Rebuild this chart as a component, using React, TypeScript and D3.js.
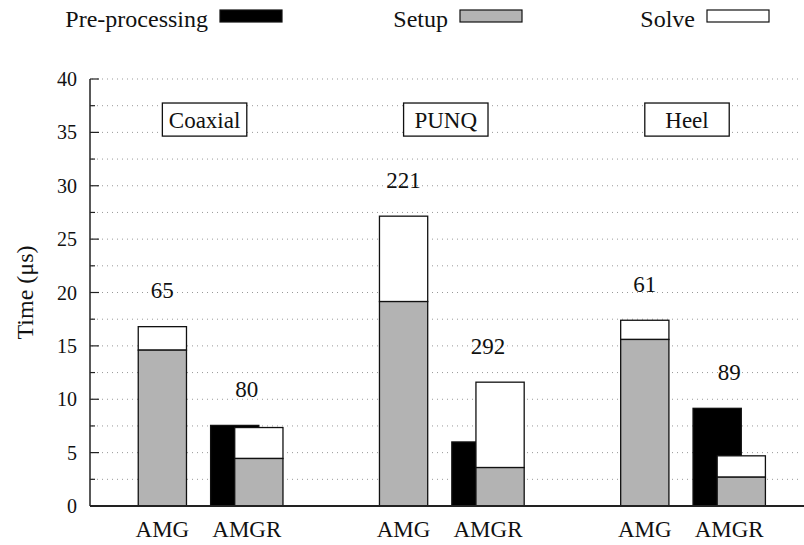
import React, { useEffect, useRef } from 'react';
import * as d3 from 'd3';

const categories = ['Coaxial', 'PUNQ', 'Heel'];
const amgSetup = [14.6, 19.15, 15.6];
const amgSolve = [2.2, 8.0, 1.8];
const amgrPre = [7.55, 6.0, 9.15];
const amgrSetup = [4.45, 3.6, 2.7];
const amgrSolve = [2.9, 8.0, 2.0];
const amgLabels = ['65', '221', '61'];
const amgrLabels = ['80', '292', '89'];
const methods = ['AMG', 'AMGR'];
const legendNames = ['Pre-processing', 'Setup', 'Solve'];
const yTicks = [0, 5, 10, 15, 20, 25, 30, 35, 40];
const yMinor = [2.5, 7.5, 12.5, 17.5, 22.5, 27.5, 32.5, 37.5];

const W = 804;
const H = 545;
const FONT = "'Liberation Serif', 'Times New Roman', Times, Tinos, 'Nimbus Roman', 'DejaVu Serif', serif";
const GRAY = '#b3b3b3';

const App: React.FC = () => {
    const svgRef = useRef<SVGSVGElement>(null);

    useEffect(() => {
        if (!svgRef.current) return;
        const svg = d3.select(svgRef.current);
        svg.selectAll('*').remove();

        // x in "group units": AMG bar at i, pre-processing at i+0.3, AMGR stack at i+0.4
        const x = d3.scaleLinear().domain([-0.3, 2.66]).range([90, W]);
        const y = d3.scaleLinear().domain([0, 40]).range([506, 79]);
        const bw = x(0.2) - x(0);

        const txt = (sel: d3.Selection<SVGTextElement, unknown, null, undefined>, size: number) =>
            sel.style('font-family', FONT).style('font-size', `${size}px`).attr('fill', '#111');

        // grid
        const grid = svg.append('g');
        [...yTicks.slice(1), ...yMinor].forEach((t) => {
            grid.append('line')
                .attr('x1', x(-0.3) + 2)
                .attr('x2', W - 2)
                .attr('y1', y(t))
                .attr('y2', y(t))
                .attr('stroke', '#999')
                .attr('stroke-width', 1)
                .attr('stroke-dasharray', '1,4');
        });

        // category boxes
        categories.forEach((c, i) => {
            const x0 = x(i);
            const x1 = x(i + 0.35);
            svg.append('rect')
                .attr('x', x0)
                .attr('y', y(37.75))
                .attr('width', x1 - x0)
                .attr('height', y(34.65) - y(37.75))
                .attr('fill', 'white')
                .attr('stroke', '#111')
                .attr('stroke-width', 1.3);
            txt(svg.append('text'), 23)
                .attr('x', (x0 + x1) / 2)
                .attr('y', y(36.2) + 8)
                .attr('text-anchor', 'middle')
                .text(c);
        });

        const bars = svg.append('g').attr('stroke', '#111').attr('stroke-width', 1.3);
        const stack = (cx: number, setup: number, solve: number) => {
            bars.append('rect')
                .attr('x', x(cx) - bw / 2)
                .attr('y', y(setup + solve))
                .attr('width', bw)
                .attr('height', y(setup) - y(setup + solve))
                .attr('fill', 'white');
            bars.append('rect')
                .attr('x', x(cx) - bw / 2)
                .attr('y', y(setup))
                .attr('width', bw)
                .attr('height', y(0) - y(setup))
                .attr('fill', GRAY);
        };

        categories.forEach((_c, i) => {
            stack(i, amgSetup[i], amgSolve[i]);
            bars.append('rect')
                .attr('x', x(i + 0.3) - bw / 2)
                .attr('y', y(amgrPre[i]))
                .attr('width', bw)
                .attr('height', y(0) - y(amgrPre[i]))
                .attr('fill', 'black');
            stack(i + 0.4, amgrSetup[i], amgrSolve[i]);

            // value labels above the bars
            const lab = (cx: number, top: number, s: string) => {
                txt(svg.append('text'), 23)
                    .attr('x', x(cx))
                    .attr('y', y(top + 3.4) + 8)
                    .attr('text-anchor', 'middle')
                    .text(s);
            };
            lab(i, amgSetup[i] + amgSolve[i], amgLabels[i]);
            lab(i + 0.35, Math.max(amgrPre[i], amgrSetup[i] + amgrSolve[i]), amgrLabels[i]);

            // method labels
            [i, i + 0.35].forEach((p, k) => {
                txt(svg.append('text'), 23)
                    .attr('x', x(p))
                    .attr('y', 537)
                    .attr('text-anchor', 'middle')
                    .text(methods[k]);
            });
        });

        // axes
        const ax = svg.append('g').attr('stroke', '#222');
        ax.append('line')
            .attr('x1', x(-0.3)).attr('x2', x(-0.3))
            .attr('y1', y(0)).attr('y2', y(40))
            .attr('stroke-width', 1.5);
        ax.append('line')
            .attr('x1', x(-0.3)).attr('x2', W)
            .attr('y1', y(0)).attr('y2', y(0))
            .attr('stroke-width', 2);
        yTicks.forEach((t) => {
            ax.append('line')
                .attr('x1', x(-0.3)).attr('x2', x(-0.3) + 9)
                .attr('y1', y(t)).attr('y2', y(t))
                .attr('stroke-width', 1.2);
            txt(svg.append('text'), 20)
                .attr('x', 77)
                .attr('y', y(t) + 7)
                .attr('text-anchor', 'end')
                .text(t);
        });
        yMinor.forEach((t) => {
            ax.append('line')
                .attr('x1', x(-0.3)).attr('x2', x(-0.3) + 5)
                .attr('y1', y(t)).attr('y2', y(t))
                .attr('stroke-width', 1.2);
        });

        txt(svg.append('text'), 24)
            .attr('transform', `translate(33, ${y(20)}) rotate(-90)`)
            .attr('text-anchor', 'middle')
            .text('Time (μs)');

        // legend
        const fills = ['black', GRAY, 'white'];
        const textEnd = [208, 448, 695];
        legendNames.forEach((n, k) => {
            txt(svg.append('text'), 24)
                .attr('x', textEnd[k])
                .attr('y', 27)
                .attr('text-anchor', 'end')
                .text(n);
            svg.append('rect')
                .attr('x', textEnd[k] + 12)
                .attr('y', 10)
                .attr('width', 62)
                .attr('height', 12)
                .attr('fill', fills[k])
                .attr('stroke', '#111')
                .attr('stroke-width', 1.2);
        });
    }, []);

    return (
        <svg ref={svgRef} width={W} height={H}
            style={{ position: 'absolute', left: 0, top: 0, background: 'white' }} />
    );
};

export default App;
